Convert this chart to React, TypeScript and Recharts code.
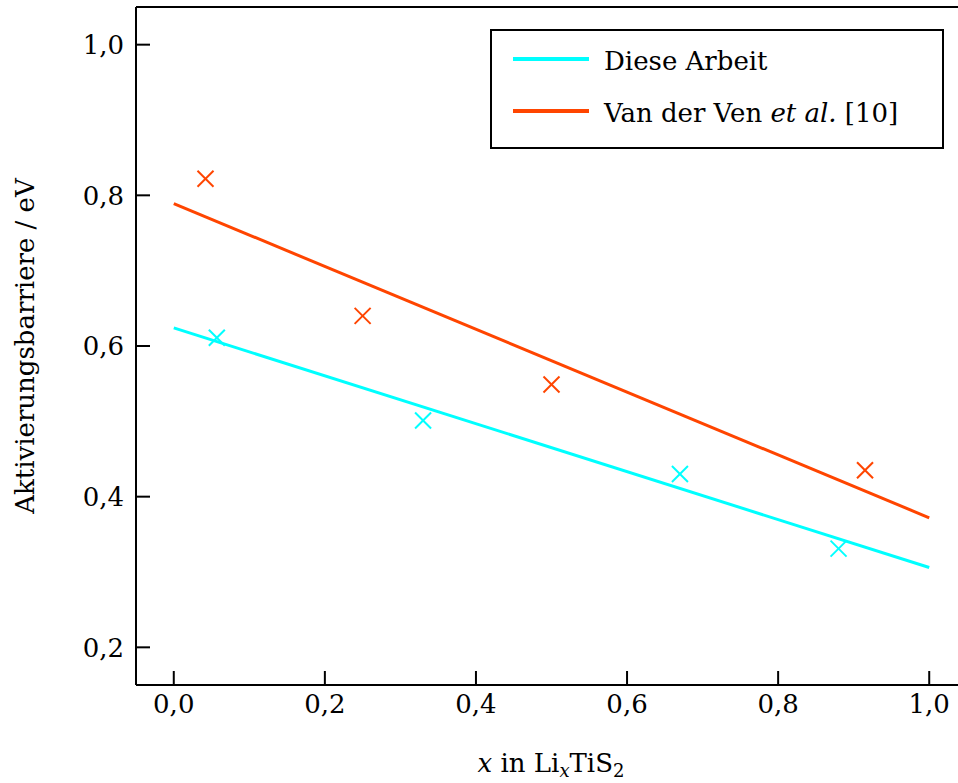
import React from "react";
import { ComposedChart, Line, Scatter, XAxis, YAxis, ReferenceLine, Legend } from "recharts";

const FONT = "DejaVu Serif";
const CYAN = "#00ffff";
const RED = "#ff4500";

const xTicks = [0, 0.2, 0.4, 0.6, 0.8, 1.0];
const yTicks = [0.2, 0.4, 0.6, 0.8, 1.0];

// Diese Arbeit (measured + linear fit)
const dieseX = [0.057, 0.33, 0.67, 0.88];
const dieseY = [0.611, 0.501, 0.43, 0.331];
const dieseFitX = [0, 1];
const dieseFitY = [0.624, 0.306];

// Van der Ven et al. [10]
const vdvX = [0.042, 0.25, 0.5, 0.915];
const vdvY = [0.822, 0.64, 0.549, 0.435];
const vdvFitX = [0, 1];
const vdvFitY = [0.789, 0.372];

const toRows = (xs: number[], ys: number[]) => xs.map((x, i) => ({ x, y: ys[i] }));

const fmt = (v: number) => v.toFixed(1).replace(".", ",");

function Cross(color: string) {
  return (props: any) => {
    const { cx, cy } = props;
    const s = 8;
    return (
      <g stroke={color} strokeWidth={2}>
        <line x1={cx - s} y1={cy - s} x2={cx + s} y2={cy + s} />
        <line x1={cx - s} y1={cy + s} x2={cx + s} y2={cy - s} />
      </g>
    );
  };
}

function LegendBox() {
  const items = [
    { color: CYAN, label: <>Diese Arbeit</> },
    { color: RED, label: <>Van der Ven <i>et al.</i> [10]</> },
  ];
  return (
    <div
      style={{
        border: "2px solid #000",
        background: "#fff",
        boxSizing: "border-box",
        width: 454,
        height: 120,
        padding: "2px 0 0 21px",
        fontFamily: FONT,
        fontSize: 26,
        color: "#000",
      }}
    >
      {items.map((it, i) => (
        <div key={i} style={{ display: "flex", alignItems: "center", height: 52 }}>
          <div style={{ width: 76, height: 4, background: it.color, marginRight: 15 }} />
          <span style={{ position: "relative", top: 2 }}>{it.label}</span>
        </div>
      ))}
    </div>
  );
}

export default function App() {
  return (
    <div style={{ position: "absolute", left: 0, top: 0, width: 958, height: 783, overflow: "hidden", background: "#fff" }}>
      <ComposedChart width={1000} height={783} margin={{ top: 7, right: 33, left: 0, bottom: 0 }}>
        <XAxis
          type="number"
          dataKey="x"
          domain={[-0.05, 1.05]}
          ticks={xTicks}
          allowDataOverflow
          height={98}
          tickSize={-14}
          tickMargin={24}
          tickFormatter={fmt}
          axisLine={{ stroke: "#000", strokeWidth: 2 }}
          tickLine={{ stroke: "#000", strokeWidth: 2 }}
          tick={{ fill: "#000", fontSize: 26, fontFamily: FONT }}
          label={{
            content: () => (
              <text x={551} y={772} textAnchor="middle" fontFamily={FONT} fontSize={26} fill="#000">
                <tspan fontStyle="italic">x</tspan> in Li
                <tspan fontStyle="italic" fontSize={18} dy={5}>x</tspan>
                <tspan dy={-5}>TiS</tspan>
                <tspan fontSize={18} dy={5}>2</tspan>
              </text>
            ),
          }}
        />
        <YAxis
          type="number"
          domain={[0.15, 1.05]}
          ticks={yTicks}
          allowDataOverflow
          width={136}
          tickSize={-14}
          tickMargin={26}
          tickFormatter={fmt}
          axisLine={{ stroke: "#000", strokeWidth: 2 }}
          tickLine={{ stroke: "#000", strokeWidth: 2 }}
          tick={{ fill: "#000", fontSize: 26, fontFamily: FONT }}
          label={{
            content: () => (
              <text
                x={34}
                y={346}
                transform="rotate(-90 34 346)"
                textAnchor="middle"
                fontFamily={FONT}
                fontSize={26}
                fill="#000"
              >
                Aktivierungsbarriere / eV
              </text>
            ),
          }}
        />
        <ReferenceLine y={1.05} stroke="#000" strokeWidth={2} />
        <Line
          data={toRows(dieseFitX, dieseFitY)}
          dataKey="y"
          type="linear"
          stroke={CYAN}
          strokeWidth={3}
          dot={false}
          isAnimationActive={false}
        />
        <Line
          data={toRows(vdvFitX, vdvFitY)}
          dataKey="y"
          type="linear"
          stroke={RED}
          strokeWidth={3}
          dot={false}
          isAnimationActive={false}
        />
        <Scatter data={toRows(dieseX, dieseY)} dataKey="y" shape={Cross(CYAN)} isAnimationActive={false} />
        <Scatter data={toRows(vdvX, vdvY)} dataKey="y" shape={Cross(RED)} isAnimationActive={false} />
        <Legend
          layout="horizontal"
          verticalAlign="middle"
          align="center"
          wrapperStyle={{ position: "absolute", left: 490, top: 29, width: 454, height: 120 }}
          content={() => <LegendBox />}
        />
      </ComposedChart>
    </div>
  );
}
